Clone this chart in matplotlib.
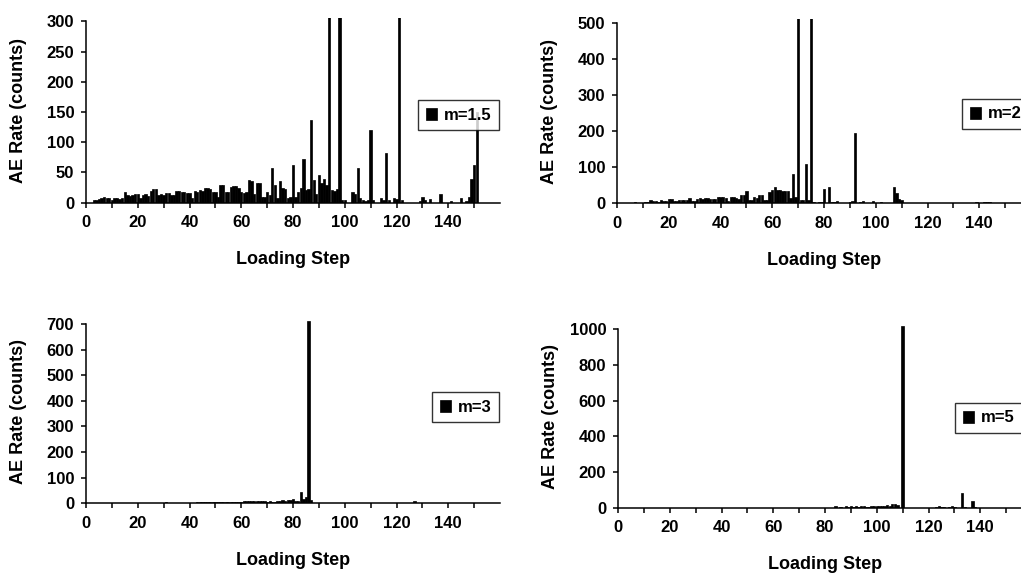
"""AE rate per loading step for four Weibull moduli (m = 1.5, 2, 3, 5)."""

import numpy as np
import matplotlib
matplotlib.use("Agg")
import matplotlib.pyplot as plt

plt.rcParams["font.family"] = ["Liberation Sans", "DejaVu Sans"]
plt.rcParams["font.weight"] = "bold"

W, H = 1021, 574

# AE counts per loading step (step 1, 2, 3, ...)
ae_m15 = [0, 0, 4, 5, 6, 8, 9, 8, 8, 4,
          7, 8, 6, 7, 17, 12, 11, 13, 14, 14,
          7, 13, 14, 11, 20, 22, 22, 13, 14, 12,
          16, 16, 12, 13, 19, 20, 17, 17, 16, 16,
          8, 19, 18, 21, 20, 25, 24, 22, 17, 17,
          10, 29, 30, 18, 17, 26, 27, 28, 25, 18,
          16, 17, 38, 36, 15, 33, 32, 10, 9, 18,
          12, 58, 29, 8, 36, 24, 22, 8, 10, 62,
          10, 18, 24, 72, 21, 22, 136, 37, 15, 46,
          32, 40, 30, 400, 21, 20, 22, 400, 4, 4,
          0, 0, 18, 15, 58, 8, 4, 3, 4, 120,
          4, 0, 0, 7, 4, 83, 4, 0, 7, 6,
          400, 4, 0, 0, 0, 0, 0, 0, 2, 9,
          4, 0, 6, 0, 0, 0, 14, 0, 0, 0,
          3, 0, 0, 0, 7, 0, 3, 10, 40, 62,
          150]

ae_m2 = [0, 0, 0, 0, 0, 0, 4, 0, 0, 2,
         3, 4, 9, 6, 6, 5, 9, 6, 6, 13,
         12, 7, 6, 9, 8, 10, 9, 14, 7, 7,
         13, 14, 13, 14, 14, 11, 11, 12, 18, 17,
         17, 16, 6, 18, 17, 14, 13, 23, 22, 34,
         9, 10, 18, 16, 23, 22, 9, 10, 32, 37,
         46, 37, 36, 35, 34, 35, 14, 81, 18, 600,
         9, 8, 109, 9, 600, 4, 2, 3, 3, 40,
         2, 44, 3, 4, 7, 0, 0, 0, 0, 4,
         7, 195, 0, 3, 7, 0, 2, 0, 7, 0,
         0, 3, 0, 0, 0, 0, 44, 30, 11, 10,
         0, 0, 0, 0, 0, 0, 0, 0, 0, 0,
         0, 0, 0, 0, 0, 0, 0, 0, 0, 0,
         0, 0, 0, 0, 0, 0, 0, 0, 3, 0,
         0, 3, 3, 3, 2]

ae_m3 = [0, 0, 0, 0, 0, 0, 0, 0, 0, 0,
         0, 0, 0, 0, 0, 0, 0, 0, 0, 0,
         0, 0, 0, 0, 0, 0, 0, 0, 1, 3,
         4, 2, 1, 1, 1, 3, 2, 1, 3, 2,
         1, 3, 4, 5, 4, 6, 5, 4, 6, 5,
         4, 6, 5, 4, 5, 6, 5, 4, 6, 7,
         8, 9, 8, 10, 9, 8, 10, 9, 8, 7,
         9, 6, 7, 8, 10, 11, 10, 12, 14, 15,
         10, 8, 45, 15, 24, 710, 13, 3, 0, 0,
         3, 0, 0, 1, 0, 0, 0, 0, 0, 0,
         0, 1, 0, 0, 1, 0, 0, 0, 1, 0,
         0, 0, 1, 0, 0, 0, 0, 1, 0, 0,
         0, 0, 0, 0, 1, 2, 8, 2, 1, 1,
         1]

ae_m5 = [0, 0, 0, 0, 0, 0, 0, 0, 0, 0,
         0, 0, 0, 0, 0, 0, 0, 0, 0, 0,
         0, 0, 0, 0, 0, 0, 0, 0, 0, 0,
         0, 0, 0, 0, 0, 0, 0, 0, 0, 0,
         0, 0, 0, 0, 1, 1, 0, 1, 1, 1,
         0, 1, 1, 1, 0, 1, 1, 1, 0, 0,
         0, 0, 0, 0, 0, 0, 0, 0, 0, 0,
         0, 0, 0, 0, 0, 0, 0, 0, 0, 0,
         0, 0, 0, 8, 0, 5, 0, 9, 3, 8,
         5, 9, 6, 8, 10, 4, 3, 10, 8, 11,
         9, 12, 10, 14, 11, 18, 20, 15, 0, 1020,
         0, 0, 0, 0, 0, 0, 0, 0, 0, 0,
         0, 0, 5, 7, 3, 6, 0, 4, 9, 3,
         0, 0, 80, 2, 0, 0, 37, 3]

panels = [
    # values, legend label, y ticks, y top, axes box px (left, right, baseline, top), legend anchor px
    (ae_m15, "m=1.5", [0, 50, 100, 150, 200, 250, 300], 305, (86, 500, 202.7, 18.3), (418, 100)),
    (ae_m2, "m=2", [0, 100, 200, 300, 400, 500], 512, (617, 1031, 203.3, 19.0), (962, 99)),
    (ae_m3, "m=3", [0, 100, 200, 300, 400, 500, 600, 700], 715, (86, 500, 503.3, 320.2), (432, 392)),
    (ae_m5, "m=5", [0, 200, 400, 600, 800, 1000], 1025, (618, 1032, 507.7, 324.8), (955, 403)),
]


def main():
    fig = plt.figure(figsize=(W / 100, H / 100), dpi=100)

    for vals, label, yticks, ytop, (l, r, b, t), (lx, ly) in panels:
        ax = fig.add_axes([l / W, 1 - b / H, (r - l) / W, (b - t) / H])
        steps = np.arange(1, len(vals) + 1)
        ax.bar(steps, vals, width=0.9, color="black", edgecolor="black",
               linewidth=0.5, label=label)

        ax.set_xlim(0, 160)
        ax.set_ylim(0, ytop)
        ax.set_xticks(range(0, 141, 20))
        ax.set_xticks(range(10, 160, 10), minor=True)
        ax.set_yticks(yticks)

        for s in ("top", "right"):
            ax.spines[s].set_visible(False)
        for s in ("left", "bottom"):
            ax.spines[s].set_linewidth(1.1)
        ax.spines["left"].set_bounds(0, yticks[-1])

        ax.tick_params(axis="both", which="both", direction="out", length=3.5,
                       width=1.1, labelsize=12)
        ax.tick_params(axis="x", pad=5.5)
        ax.tick_params(axis="y", pad=5)
        for lab in ax.get_xticklabels() + ax.get_yticklabels():
            lab.set_fontweight("bold")

        ax.set_xlabel("Loading Step", fontsize=13, fontweight="bold", labelpad=15)
        ax.set_ylabel("AE Rate (counts)", fontsize=13, fontweight="bold")
        ax.yaxis.set_label_coords(-0.143, 0.5)

        leg = ax.legend(loc="upper left", bbox_to_anchor=(lx / W, 1 - ly / H),
                        bbox_transform=fig.transFigure, borderaxespad=0,
                        fancybox=False, frameon=True, fontsize=12,
                        handlelength=0.7, handleheight=0.7, handletextpad=0.4,
                        borderpad=0.45)
        leg.get_frame().set_edgecolor("black")
        leg.get_frame().set_linewidth(1.0)
        for txt in leg.get_texts():
            txt.set_fontweight("bold")

    fig.savefig("out.png", dpi=100)


if __name__ == "__main__":
    main()
